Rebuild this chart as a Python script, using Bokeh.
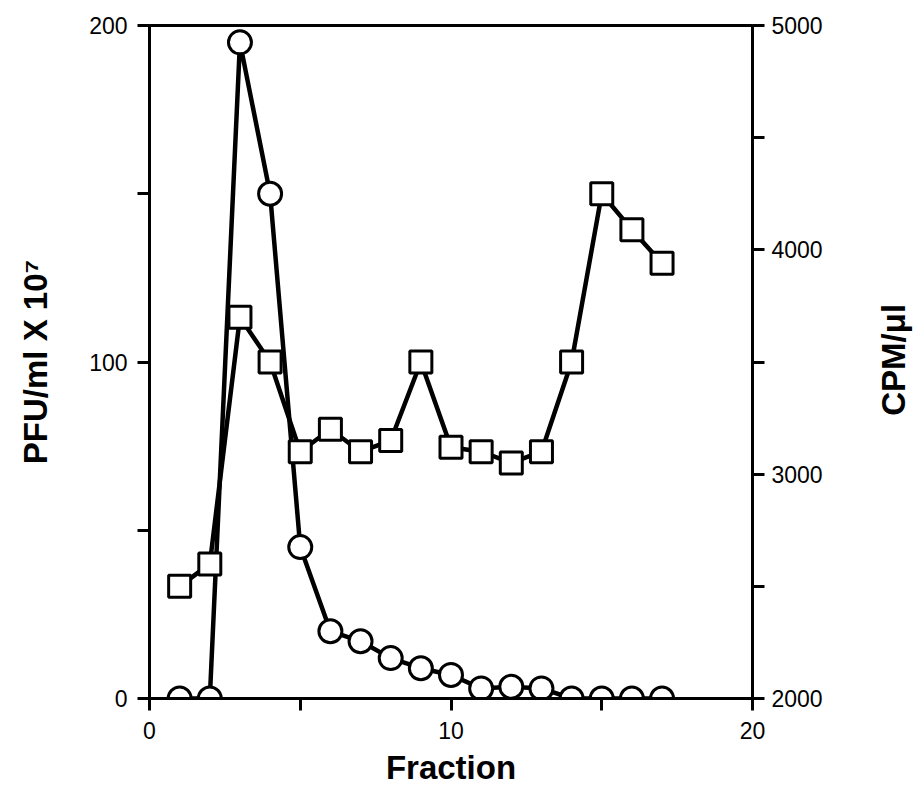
import math
from bokeh.plotting import figure
from bokeh.models import Range1d, LinearAxis, FixedTicker
from bokeh.layouts import row
from bokeh.core.properties import value
from bokeh.embed import file_html
from bokeh.resources import INLINE

fraction = [1, 2, 3, 4, 5, 6, 7, 8, 9, 10, 11, 12, 13, 14, 15, 16, 17]
pfu = [0, 0, 195, 150, 45, 20, 17, 12, 9, 7, 3, 3.5, 3, 0, 0, 0, 0]
cpm = [2500, 2600, 3700, 3500, 3100, 3200, 3100, 3150, 3500, 3120, 3100, 3050, 3100, 3500, 4250, 4090, 3940]

x_ticks = [0, 5, 10, 15, 20]
x_labels = {0: "0", 5: "", 10: "10", 15: "", 20: "20"}
left_ticks = [0, 50, 100, 150, 200]
left_labels = {0: "0", 50: "", 100: "100", 150: "", 200: "200"}
right_ticks = [2000, 2500, 3000, 3500, 4000, 4500, 5000]
right_labels = {2000: "2000", 2500: "", 3000: "3000", 3500: "", 4000: "4000", 4500: "", 5000: "5000"}

x_title = "Fraction"
left_title = "PFU/ml X 10\u2077"
right_title = "CPM/\u03bcl"

FONT = "Liberation Sans"

p = figure(width=855, height=789, output_backend="svg", toolbar_location=None,
           x_range=Range1d(0, 20), y_range=Range1d(0, 200),
           min_border_left=149, min_border_right=103, min_border_top=25, min_border_bottom=91)
p.extra_y_ranges = {"cpm": Range1d(2000, 5000)}

p.grid.visible = False
p.background_fill_color = "white"
p.border_fill_color = "white"
p.outline_line_color = "black"
p.outline_line_width = 3

def style_axis(ax, standoff):
    ax.axis_line_width = 3
    ax.axis_line_color = "black"
    ax.major_tick_line_width = 3
    ax.major_tick_out = 12
    ax.major_tick_in = 0
    ax.minor_tick_line_color = None
    ax.major_label_text_font = FONT
    ax.major_label_text_font_size = "23px"
    ax.major_label_text_color = "black"
    ax.major_label_standoff = standoff
    ax.axis_label_text_font = FONT
    ax.axis_label_text_font_style = "bold"
    ax.axis_label_text_font_size = "33px"
    ax.axis_label_text_color = "black"

xa = p.xaxis[0]
style_axis(xa, 11)
xa.ticker = FixedTicker(ticks=x_ticks)
xa.major_label_overrides = x_labels
xa.axis_label = x_title
xa.axis_label_standoff = 7

ya = p.yaxis[0]
style_axis(ya, 10)
ya.ticker = FixedTicker(ticks=left_ticks)
ya.major_label_overrides = left_labels
ya.axis_label = left_title
ya.axis_label_standoff = 32

ra = LinearAxis(y_range_name="cpm")
style_axis(ra, 7)
ra.ticker = FixedTicker(ticks=right_ticks)
ra.major_label_overrides = right_labels
p.add_layout(ra, "right")

p.line(fraction, pfu, line_color="black", line_width=4.5)
p.line(fraction, cpm, line_color="black", line_width=4.5, y_range_name="cpm")
p.scatter(fraction, cpm, marker="square", size=22, fill_color="white",
          line_color="black", line_width=3, y_range_name="cpm")
p.scatter(fraction, pfu, marker="circle", size=23, fill_color="white",
          line_color="black", line_width=3)

# narrow side panel carrying the right-hand axis title (reads bottom to top)
p2 = figure(width=60, height=789, output_backend="svg", toolbar_location=None,
            x_range=Range1d(0, 60), y_range=Range1d(0, 789),
            min_border_left=0, min_border_right=0, min_border_top=0, min_border_bottom=0)
p2.axis.visible = False
p2.grid.visible = False
p2.outline_line_color = None
p2.background_fill_color = "white"
p2.border_fill_color = "white"
p2.text(x=[38], y=[397], text=[right_title], angle=math.pi / 2,
        text_align="center", text_baseline="middle",
        text_font=value(FONT), text_font_style="bold", text_font_size="33px",
        text_color="black")

layout = row(p, p2)
open("out.html", "w").write(file_html(layout, INLINE))
